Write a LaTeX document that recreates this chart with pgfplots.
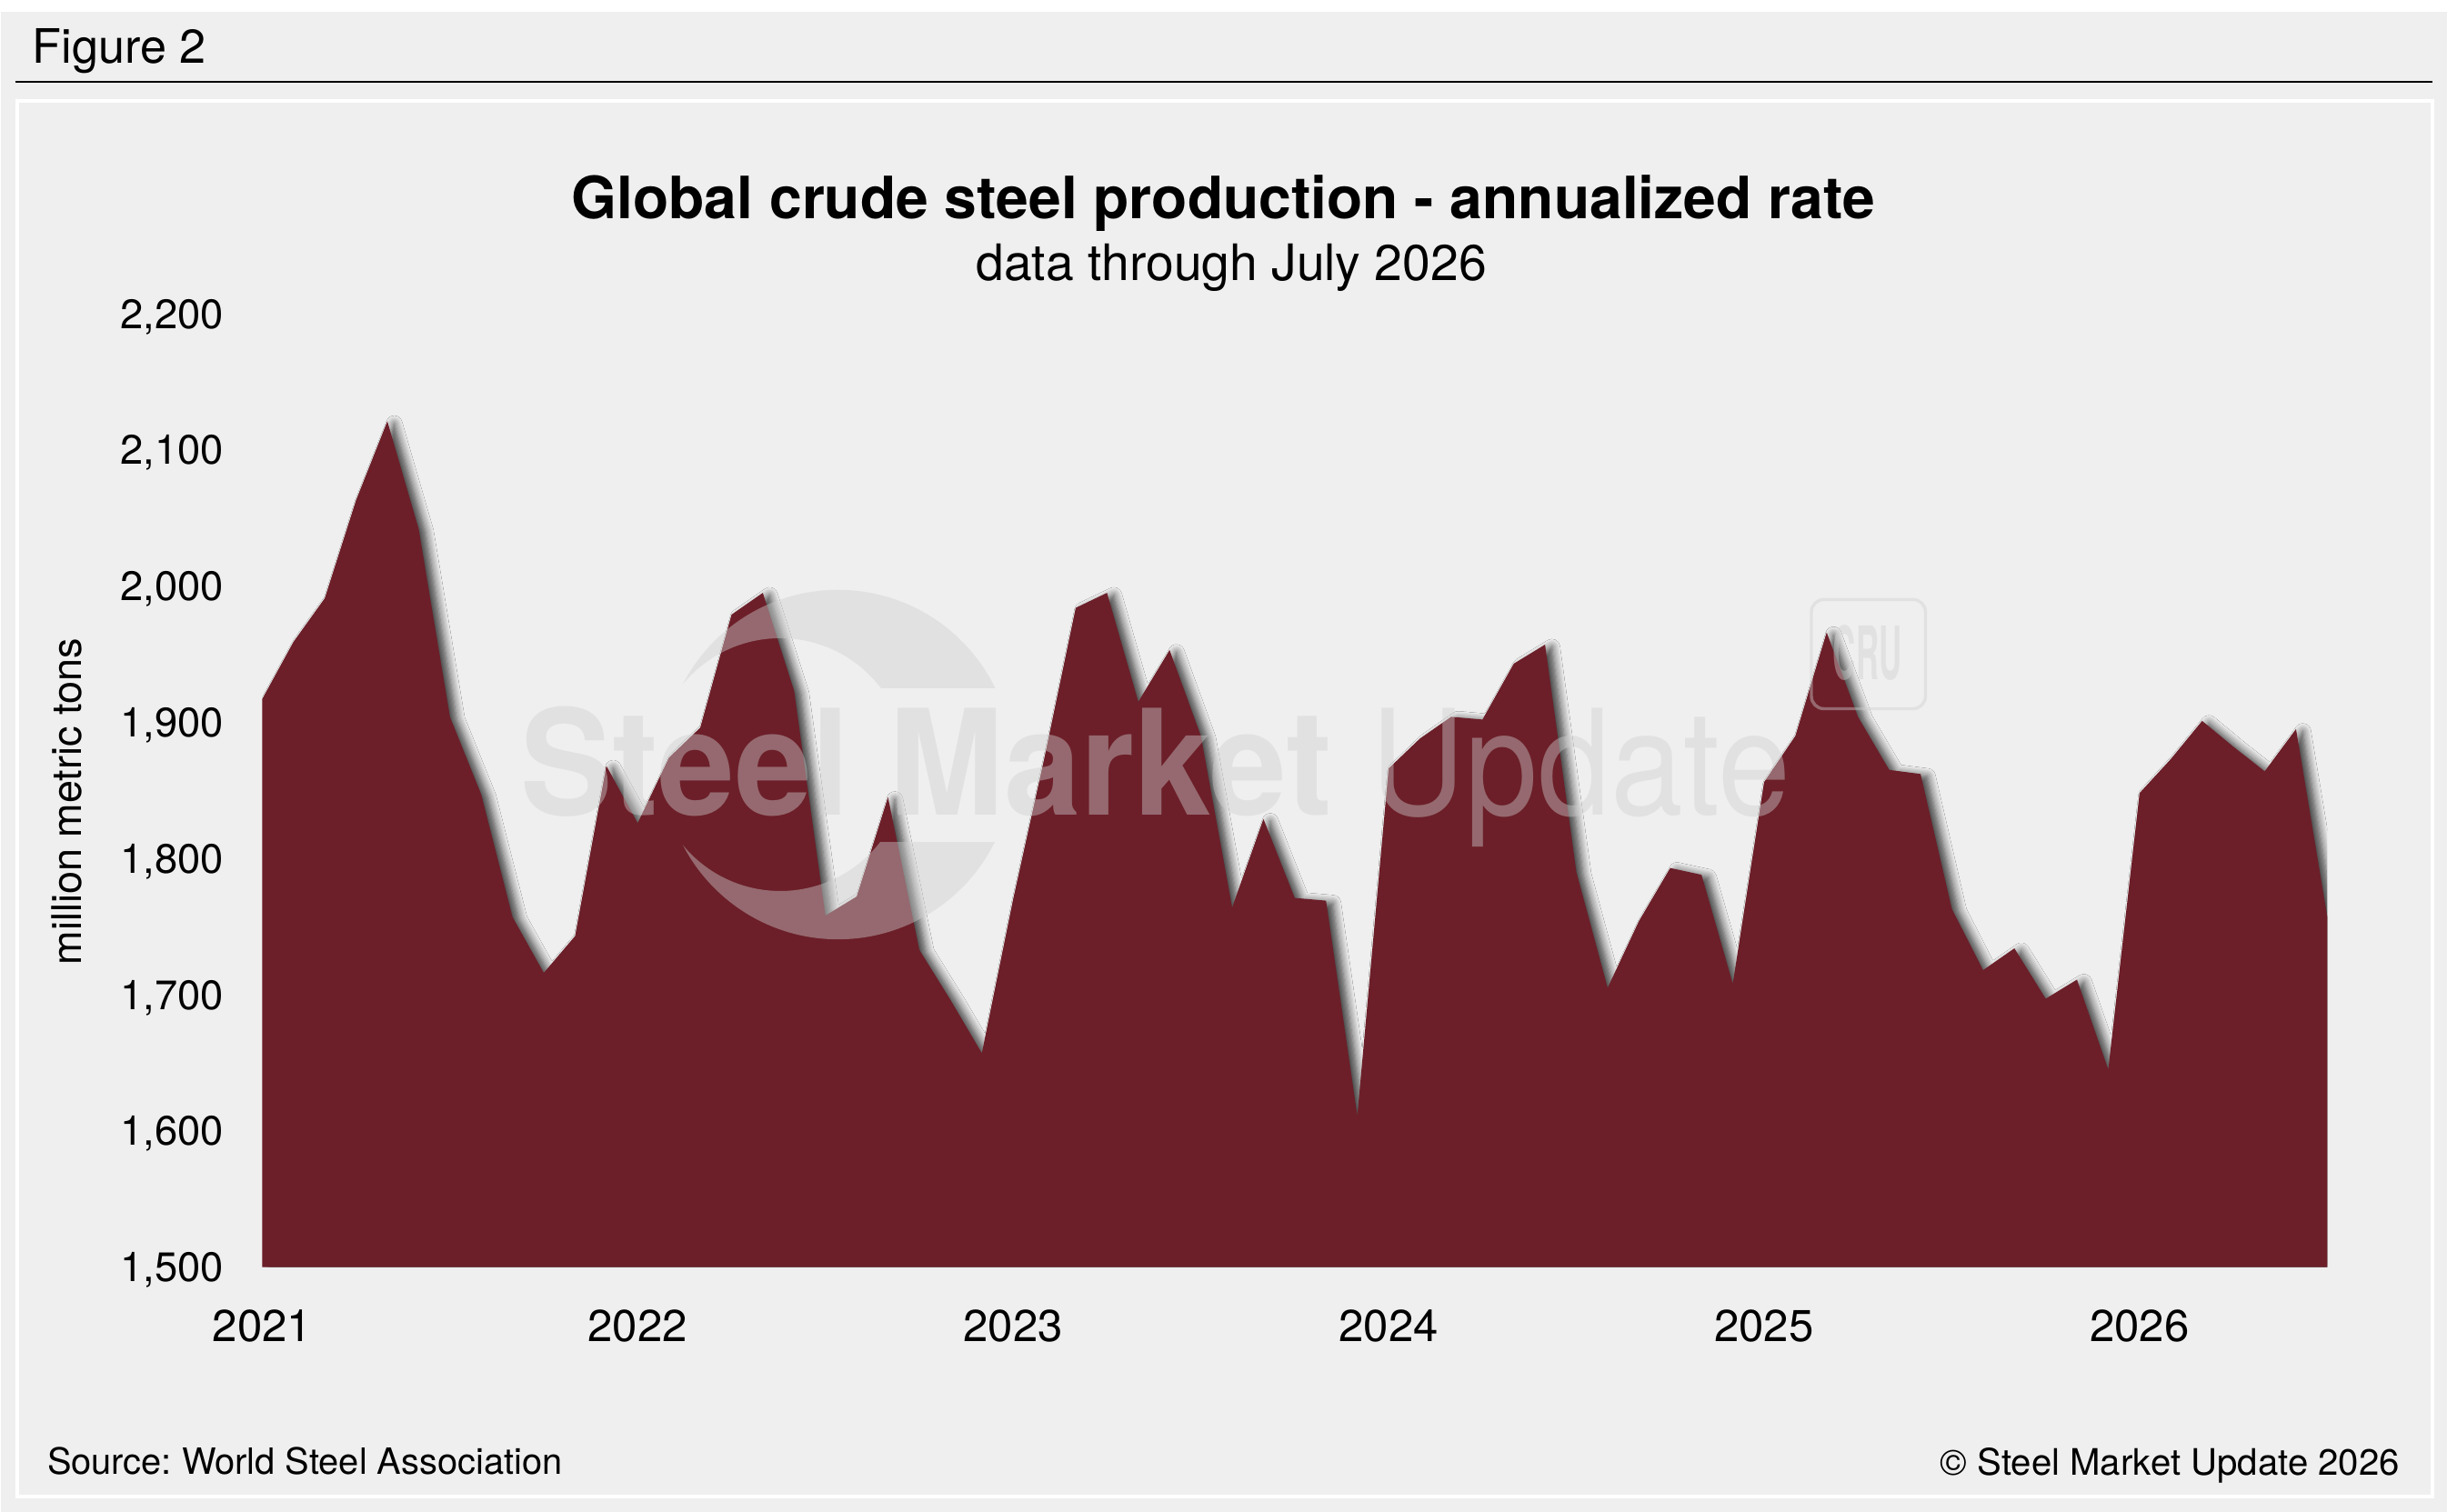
\documentclass[border=0pt]{standalone}
\usepackage{pgfplots}
\pgfplotsset{compat=1.18}
\usepackage{fontspec}
\setmainfont{TeX Gyre Heros}
\usetikzlibrary{shadows.blur}
\definecolor{bg}{RGB}{239,239,239}
\definecolor{maroon}{RGB}{108,31,41}
\definecolor{wm}{RGB}{208,208,208}
\frenchspacing
\begin{document}
\begin{tikzpicture}
\useasboundingbox (0,0) rectangle (784pt,-484.5pt);
\fill[white] (0,0) rectangle (784pt,-484.5pt);
\fill[bg] (0.3pt,-3.7pt) rectangle (784pt,-484.5pt);
\begin{scope}[x=0.5pt,y=-0.5pt]
\draw[black, line width=0.6pt] (9.7,52.6) -- (1558.5,52.6);
\draw[white, line width=1.15pt] (10.85,64.85) rectangle (1558.6,959.2);
\node[anchor=base west, inner sep=0pt, font=\fontsize{15.2}{18}\selectfont] at (20.4,40.4) {Figure 2};
\node[anchor=base, inner sep=0pt, font=\fontsize{18.7}{22}\selectfont\bfseries] at (784,140.4) {Global crude steel production - annualized rate};
\node[anchor=base, inner sep=0pt, font=\fontsize{16.1}{19}\selectfont] at (789,179.7) {data through July 2026};
\node[anchor=base west, inner sep=0pt, font=\fontsize{11.6}{14}\selectfont] at (29.9,945) {Source: World Steel Association};
\node[anchor=base east, inner sep=0pt, font=\fontsize{11.7}{14}\selectfont] at (1538,945.1) {\textcopyright{} Steel Market Update 2026};
\end{scope}
\begin{axis}[
  at={(84pt,-406pt)}, anchor=south west,
  scale only axis, width=661.65pt, height=305.5pt,
  xmin=0, xmax=66, ymin=1500, ymax=2200,
  axis line style={draw=none}, major tick length=0pt,
  xtick={0,12,24,36,48,60},
  xticklabels={2021,2022,2023,2024,2025,2026},
  ytick={1500,1600,1700,1800,1900,2000,2100,2200},
  yticklabels={{1,500},{1,600},{1,700},{1,800},{1,900},{2,000},{2,100},{2,200}},
  xticklabel style={anchor=base, inner sep=0pt, yshift=-24pt, font=\fontsize{14.3}{16}\selectfont},
  yticklabel style={anchor=base east, inner sep=0pt, xshift=-12.25pt, yshift=-4.7pt, font=\fontsize{13.2}{15}\selectfont},
  ylabel={million metric tons},
  ylabel style={at={(axis description cs:-0.08736,0.4882)}, anchor=base, inner sep=0pt, font=\fontsize{13.1}{15}\selectfont},
  /pgf/number format/assume math mode=true,
  clip=true,
]
\addplot[draw=none, fill=maroon, blur shadow={shadow xshift=2.2pt, shadow yshift=-0.8pt, shadow blur radius=2.6pt, shadow blur steps=8, shadow opacity=75}] coordinates {
(0,1917) (1,1959) (2,1991) (3,2063) (4,2121) (5,2042) (6,1904) (7,1847)
(8,1757) (9,1716) (10,1743) (11,1868) (12,1826) (13,1874) (14,1896) (15,1979)
(16,1995) (17,1923) (18,1758) (19,1772) (20,1845) (21,1733) (22,1696) (23,1657)
(24,1770) (25,1874) (26,1984) (27,1995) (28,1915) (29,1953) (30,1890) (31,1764)
(32,1829) (33,1771) (34,1769) (35,1611) (36,1866) (37,1888) (38,1904) (39,1902)
(40,1943) (41,1957) (42,1790) (43,1705) (44,1754) (45,1793) (46,1788) (47,1708)
(48,1856) (49,1890) (50,1966) (51,1904) (52,1865) (53,1862) (54,1763) (55,1718)
(56,1734) (57,1697) (58,1711) (59,1645) (60,1848) (61,1873) (62,1901) (63,1882)
(64,1864) (65,1895) (66,1757)
} \closedcycle;
\end{axis}
\begin{scope}[x=0.5pt,y=-0.5pt, opacity=0.42]
 \begin{scope}
  \clip (537,490) circle (112);
  \clip (380,360) rectangle (700,441);
  \fill[wm, even odd rule] (380,360) rectangle (700,620) (500,490) circle (81);
 \end{scope}
 \begin{scope}
  \clip (537,490) circle (112);
  \clip (380,540) rectangle (700,620);
  \fill[wm, even odd rule] (380,360) rectangle (700,620) (500,490) circle (81);
 \end{scope}
 \node[anchor=base west, inner sep=0pt, text=wm] at (333,522.6) {\scalebox{0.943}[1]{\fontsize{47}{47}\selectfont\bfseries Steel Market}};
 \node[anchor=base west, inner sep=0pt, text=wm] at (878,522.6) {\scalebox{0.89}[1]{\fontsize{47}{47}\selectfont Update}};
 \draw[wm, line width=1pt, rounded corners=4pt] (1160.7,384.2) rectangle (1233.8,454.2);
 \node[anchor=base, inner sep=0pt, text=wm] at (1196.6,435.4) {\scalebox{0.43}[1]{\fontsize{23.6}{24}\selectfont\bfseries CRU}};
\end{scope}
\end{tikzpicture}
\end{document}
